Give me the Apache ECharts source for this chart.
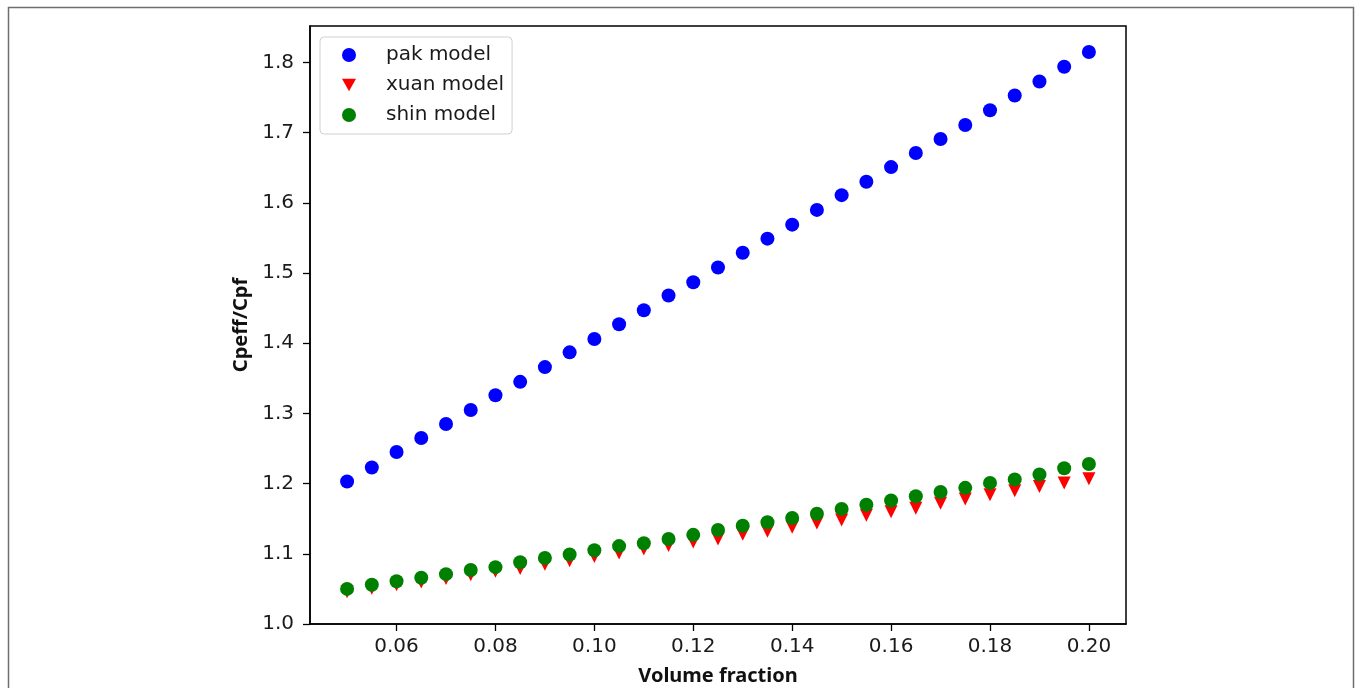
<!DOCTYPE html>
<html><head><meta charset="utf-8">
<script src="https://cdn.jsdelivr.net/npm/echarts@6/dist/echarts.min.js"></script>
<style>html,body{margin:0;padding:0;background:#fff}#c{width:1356px;height:688px}</style>
</head><body><div id="c"></div>
<script>
const volumeFraction = [0.050,0.055,0.060,0.065,0.070,0.075,0.080,0.085,0.090,0.095,0.100,0.105,0.110,0.115,0.120,0.125,0.130,0.135,0.140,0.145,0.150,0.155,0.160,0.165,0.170,0.175,0.180,0.185,0.190,0.195,0.200];
const pakModel = [1.203,1.223,1.245,1.265,1.285,1.305,1.326,1.345,1.366,1.387,1.406,1.427,1.447,1.468,1.487,1.508,1.529,1.549,1.569,1.590,1.611,1.630,1.651,1.671,1.691,1.711,1.732,1.753,1.773,1.794,1.815];
const xuanModel = [1.046,1.051,1.056,1.060,1.065,1.070,1.075,1.079,1.085,1.090,1.096,1.101,1.107,1.112,1.117,1.121,1.128,1.132,1.138,1.144,1.148,1.155,1.160,1.165,1.172,1.178,1.184,1.190,1.196,1.201,1.207];
const shinModel = [1.050,1.056,1.061,1.066,1.071,1.077,1.081,1.088,1.094,1.099,1.105,1.111,1.115,1.121,1.127,1.134,1.140,1.145,1.151,1.157,1.164,1.170,1.176,1.182,1.188,1.194,1.201,1.206,1.213,1.222,1.228];
const xTicks = [0.06,0.08,0.10,0.12,0.14,0.16,0.18,0.20];
const yTicks = [1.0,1.1,1.2,1.3,1.4,1.5,1.6,1.7,1.8];

const pair = ys => volumeFraction.map((x,i)=>[x,ys[i]]);
const tickFont = {fontFamily:'DejaVu Sans', fontSize:20, color:'#1a1a1a'};
const downTriangle = 'path://M0,0L20,0L10,18Z';
const chart = echarts.init(document.getElementById('c'), null, {renderer:'canvas'});
chart.setOption({
  animation:false,
  backgroundColor:'#fff',
  graphic:[{type:'rect', shape:{x:8.5,y:7.5,width:1345,height:720}, style:{fill:'none', stroke:'#6e6e6e', lineWidth:1.5}, silent:true, z:-10}],
  grid:{left:310, top:26, width:816, height:598, containLabel:false, outerBoundsMode:'none', show:true, borderColor:'#000', borderWidth:1.5, backgroundColor:'transparent'},
  legend:{
    orient:'vertical', left:320, top:37,
    padding:[7,8,8,22], itemGap:8, itemWidth:14, itemHeight:14,
    borderColor:'#d0d0d0', borderWidth:1, borderRadius:4, backgroundColor:'rgba(255,255,255,0.85)',
    textStyle:{fontFamily:'DejaVu Sans', fontSize:20, color:'#1a1a1a', padding:[0,0,0,25], lineHeight:22},
    data:[{name:'pak model', icon:'circle'},{name:'xuan model', icon:downTriangle},{name:'shin model', icon:'circle'}]
  },
  xAxis:{
    type:'value', min:0.0425, max:0.2075,
    name:'Volume fraction', nameLocation:'middle', nameGap:42,
    nameTextStyle:{fontFamily:'Noto Sans', fontWeight:'bold', fontSize:20, color:'#111'},
    splitLine:{show:false},
    axisLine:{show:true, lineStyle:{color:'#000', width:1.5}},
    axisTick:{show:true, length:7, inside:false, customValues:xTicks, lineStyle:{color:'#000', width:1.3}},
    axisLabel:{customValues:xTicks, margin:13, formatter:v=>v.toFixed(2), ...tickFont}
  },
  yAxis:{
    type:'value', min:1.0, max:1.852,
    name:'Cpeff/Cpf', nameLocation:'middle', nameGap:49, nameRotate:90,
    nameTextStyle:{fontFamily:'Noto Sans', fontWeight:'bold', fontSize:20, color:'#111'},
    splitLine:{show:false},
    axisLine:{show:true, lineStyle:{color:'#000', width:1.5}},
    axisTick:{show:true, length:7, inside:false, customValues:yTicks, lineStyle:{color:'#000', width:1.3}},
    axisLabel:{customValues:yTicks, margin:16, formatter:v=>v.toFixed(1), ...tickFont}
  },
  series:[
    {name:'pak model', type:'scatter', data:pair(pakModel), symbol:'circle', symbolSize:14, itemStyle:{color:'#0000ff', opacity:1}},
    {name:'xuan model', type:'scatter', data:pair(xuanModel), symbol:'triangle', symbolRotate:180, symbolSize:13, itemStyle:{color:'#ff0000', opacity:1}},
    {name:'shin model', type:'scatter', data:pair(shinModel), symbol:'circle', symbolSize:14, itemStyle:{color:'#008000', opacity:1}}
  ]
});
</script></body></html>
